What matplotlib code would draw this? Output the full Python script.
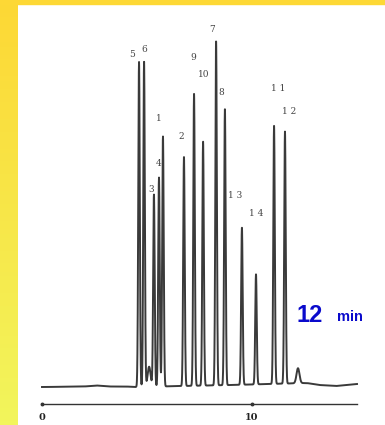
import matplotlib.pyplot as plt
import numpy as np
from matplotlib.colors import LinearSegmentedColormap

# peak data (time in min, height in px-like units)
peak_ids = ['5', '6', '3', '4', '1', '2', '9', '10', '7', '8', '13', '14', '11', '12']
peak_times = [4.62, 4.86, 5.33, 5.57, 5.76, 6.76, 7.24, 7.67, 8.29, 8.71, 9.52, 10.19, 11.05, 11.57]
peak_heights = [325, 325, 192, 209, 250, 229, 292, 244, 344, 276, 157, 110, 258, 252]

# small unlabelled bumps
minor_times = [5.1, 12.19]
minor_heights = [20, 15]

# baseline drift (time, level)
base_t = [0.1, 2.0, 2.6, 3.2, 4.0, 4.4, 9.0, 12.6, 13.2, 14.0, 15.0]
base_y = [0, 0.5, 1.5, 0.5, 0.5, 0, 2, 4, 2, 1, 3]

# label text and where it sits (time, height)
label_text = {'5': '5', '6': '6', '7': '7', '9': '9', '10': '10', '8': '8', '1': '1',
              '2': '2', '4': '4', '3': '3', '13': '1 3', '14': '1 4', '11': '1 1', '12': '1 2'}
label_pos = {'5': (4.3, 333), '6': (4.86, 338), '7': (8.1, 358), '9': (7.19, 330),
             '10': (7.71, 313), '8': (8.52, 295), '1': (5.57, 269), '2': (6.62, 251),
             '4': (5.57, 224), '3': (5.19, 198), '13': (9.19, 192), '14': (10.19, 174),
             '11': (11.24, 299), '12': (11.76, 276)}

tick_vals = [0, 10]

fig = plt.figure(figsize=(3.85, 4.25), dpi=100)
fig.patch.set_facecolor('white')

# yellow frame on top and left
bg = fig.add_axes([0, 0, 1, 1])
grad = np.linspace(0, 1, 100).reshape(-1, 1)
ycm = LinearSegmentedColormap.from_list('y', ['#fdd835', '#f2f55c'])
bg.imshow(grad, cmap=ycm, aspect='auto', extent=[0, 18, 425, 0])
bg.axhspan(0, 4, color='#fdd835')
bg.set_xlim(0, 385)
bg.set_ylim(425, 0)
bg.axis('off')

ax = fig.add_axes([0, 0, 1, 1])
ax.patch.set_alpha(0)
ax.set_xlim(-42 / 21, (385 - 42) / 21)
ax.set_ylim(-38, 387)
ax.axis('off')

t = np.linspace(0, 15, 6000)
trace = np.interp(t, base_t, base_y)
sig = 0.036
for pt, ph in zip(peak_times, peak_heights):
    trace = trace + ph * np.exp(-0.5 * ((t - pt) / sig) ** 2)
for pt, ph in zip(minor_times, minor_heights):
    trace = trace + ph * np.exp(-0.5 * ((t - pt) / 0.07) ** 2)
ax.plot(t, trace, color='#3a3a3a', lw=1.4, zorder=2)

for k in peak_ids:
    x, y = label_pos[k]
    ax.text(x, y, label_text[k], ha='center', va='center', fontsize=6.5,
            family='DejaVu Serif', color='#444444', zorder=3)

# time axis
ax.plot([0, 15], [-17, -17], color='#333333', lw=1.0)
ax.plot([0, 10], [-17, -17], 'o', color='#333333', ms=1.8)
for tv in tick_vals:
    ax.text(tv, -31, str(tv), ha='center', va='center', fontsize=7,
            family='DejaVu Serif', fontweight='bold', color='#222222')

ax.text(12.75, 72, '12', ha='center', va='center', fontsize=17, fontweight='bold',
        family='Liberation Sans', color='#0a0acc')
ax.text(14.65, 70, 'min', ha='center', va='center', fontsize=10.5, fontweight='bold',
        family='Liberation Sans', color='#0a0acc')

fig.savefig('out.png', dpi=100)
